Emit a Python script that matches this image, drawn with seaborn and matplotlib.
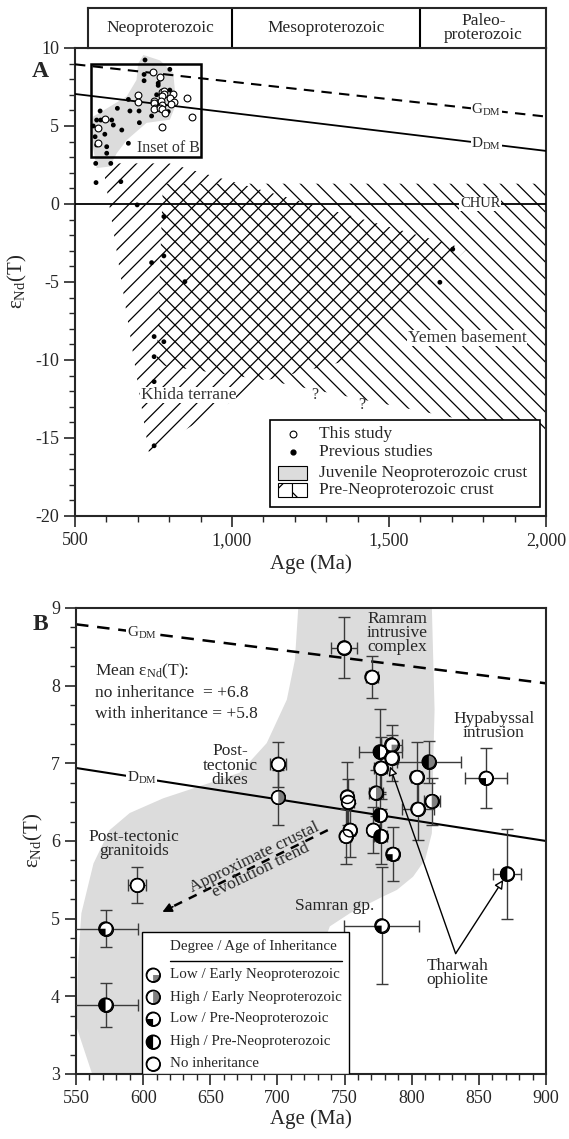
import numpy as np
import pandas as pd
import matplotlib
matplotlib.use('Agg')
import matplotlib.pyplot as plt
import seaborn as sns
from matplotlib.patches import Polygon, Rectangle
from matplotlib.path import Path
from matplotlib.markers import MarkerStyle
from matplotlib.ticker import MultipleLocator, FuncFormatter

# ---------------- data ----------------
# Panel B (this study): age (Ma), eNd(T), errors, inheritance type
b_age = [749.8, 770.2, 700.6, 700.6, 595.6, 572.0, 572.0, 855.3, 812.8, 871.2, 777.6,
         776.4, 785.0, 785.0, 776.9, 803.6, 773.4, 752.0, 752.8, 814.9, 804.4,
         776.4, 754.0, 751.0, 771.4, 776.9, 785.8]
b_eps = [8.49, 8.11, 6.99, 6.56, 5.43, 4.87, 3.89, 6.81, 7.02, 5.58, 4.91,
         7.15, 7.24, 7.07, 6.94, 6.82, 6.62, 6.57, 6.50, 6.51, 6.41,
         6.33, 6.14, 6.06, 6.14, 6.06, 5.83]
b_xerr = [9.8, 4.5, 6.0, 0.0, 6.7, 24.0, 24.0, 15.3, 24.0, 10.5, 28.0,
          16.0, 8.0, 5.0, 5.0, 4.0, 5.0, 4.0, 4.0, 6.0, 12.0,
          4.0, 4.0, 4.0, 4.0, 5.0, 4.0]
b_yerr = [0.39, 0.27, 0.29, 0.35, 0.23, 0.24, 0.28, 0.39, 0.27, 0.58, 0.75,
          0.55, 0.25, 0.30, 0.40, 0.45, 0.30, 0.45, 0.30, 0.30, 0.40,
          0.30, 0.35, 0.35, 0.30, 0.35, 0.35]
b_type = ['none', 'none', 'none', 'highE', 'none', 'lowP', 'highP', 'lowP', 'highPG', 'highP', 'lowP',
          'highP', 'lowE', 'none', 'none', 'none', 'highE', 'none', 'none', 'highE', 'none',
          'highP', 'none', 'none', 'none', 'highP', 'lowP']

# Panel A previous studies
prev_age = [723, 771, 720, 720, 765, 670, 760, 802, 580, 635, 675, 704, 744, 569, 582, 617,
            622, 558, 705, 649, 564, 595, 569, 601, 670, 601, 566, 614, 567, 646, 698,
            783, 802, 765, 797, 783, 744, 850, 1703, 1662, 752, 783, 752, 752, 752]
prev_eps = [9.23, 8.0, 8.3, 7.9, 7.6, 6.7, 7.0, 7.3, 5.96, 6.13, 5.96, 5.96, 5.64, 5.38, 5.38, 5.38,
            5.06, 5.0, 5.21, 4.74, 4.31, 4.47, 3.78, 3.67, 3.89, 3.25, 2.6, 2.6, 1.37, 1.43, -0.06,
            -0.81, 8.63, 7.74, 5.92, -3.33, -3.76, -4.98, -2.9, -5.02, -8.5, -8.83, -9.79, -11.39, -15.5]

# Reference evolution lines
gdm_a_age = [500, 2000]; gdm_a_eps = [8.95, 5.6]
ddm_a_age = [500, 2000]; ddm_a_eps = [7.05, 3.4]
gdm_b_age = [550, 900]; gdm_b_eps = [8.79, 8.03]
ddm_b_age = [550, 900]; ddm_b_eps = [6.94, 6.0]

# Juvenile crust fields
juvA_age = [718, 771, 813, 818, 818, 802, 728, 665, 633, 611, 569, 553, 558, 611, 665, 696, 701]
juvA_eps = [9.55, 9.2, 8.4, 7.3, 6.2, 5.4, 5.2, 4.1, 3.25, 2.4, 2.3, 4.1, 5.6, 6.24, 6.9, 7.95, 9.0]
juvB_age = [562, 550.5, 551.5, 554, 563, 575, 590, 615, 650, 672, 692, 707, 713, 715.5,
            815, 817, 816, 815, 810, 801, 789, 778, 754, 739, 720, 690]
juvB_eps = [3.0, 3.6, 4.43, 5.07, 5.71, 6.14, 6.36, 6.55, 6.75, 6.88, 7.26, 7.82, 8.33, 9.0,
            9.0, 7.69, 7.0, 6.1, 5.76, 5.54, 5.37, 5.28, 5.07, 4.9, 4.0, 3.0]

# Pre-Neoproterozoic crust fields
khida_age = [588, 800, 1747, 1376, 1110, 735]
khida_eps = [2.6, 2.6, -2.9, -10.0, -11.3, -15.9]
yemen_age = [780, 2000, 2000, 1110, 760]
yemen_eps = [1.3, 1.3, -14.9, -11.3, -10.3]

eras = ['Neoproterozoic', 'Mesoproterozoic', 'Paleo-\nproterozoic']
era_bounds = [541, 1000, 1600, 2000]

legB_labels = ['Low / Early Neoproterozoic', 'High / Early Neoproterozoic',
               'Low / Pre-Neoproterozoic', 'High / Pre-Neoproterozoic', 'No inheritance']
legB_types = ['lowE', 'highE', 'lowP', 'highP', 'none']

# ---------------- style ----------------
sns.set_style('ticks')
plt.rcParams['font.family'] = ['Liberation Serif', 'DejaVu Serif']
plt.rcParams['mathtext.fontset'] = 'custom'
plt.rcParams['mathtext.rm'] = 'Liberation Serif'
plt.rcParams['mathtext.it'] = 'Liberation Serif:italic'
plt.rcParams['axes.unicode_minus'] = False
plt.rcParams['hatch.linewidth'] = 0.9

GRAY_FIELD = '#dcdcdc'
GRAY_SYM = '#808080'
FS = 12.5

fills = {
    'none': [],
    'lowE': [(270, 360, GRAY_SYM)],
    'highE': [(-90, 90, GRAY_SYM)],
    'lowP': [(180, 270, 'black')],
    'highP': [(90, 270, 'black')],
    'highPG': [(90, 270, 'black'), (-90, 90, GRAY_SYM)],
}

def draw_symbols(ax, xs, ys, types, s, transform=None, z=6):
    kw = {} if transform is None else {'transform': transform}
    ax.scatter(xs, ys, s=s, facecolor='white', edgecolor='black', linewidth=1.0, zorder=z, **kw)
    for x, y, t in zip(xs, ys, types):
        for t1, t2, c in fills[t]:
            m = MarkerStyle(Path.wedge(t1, t2))
            ax.scatter([x], [y], s=s, marker=m, facecolor=c, edgecolor='none', linewidth=0, zorder=z + 0.1, **kw)
    ax.scatter(xs, ys, s=s, facecolor='none', edgecolor='black', linewidth=1.0, zorder=z + 0.2, **kw)

fig = plt.figure(figsize=(5.69, 11.39), dpi=100)
axA = fig.add_axes([0.1318, 0.5470, 0.8278, 0.4109])
axB = fig.add_axes([0.1336, 0.0571, 0.8260, 0.4091])
axT = fig.add_axes([0.1545, 0.9579, 0.8051, 0.0351])

dfB = pd.DataFrame({'age': b_age, 'eps': b_eps, 'xerr': b_xerr, 'yerr': b_yerr, 'type': b_type})
dfP = pd.DataFrame({'age': prev_age, 'eps': prev_eps})

# ---------------- Panel A ----------------
ax = axA
ax.set_xlim(500, 2000)
ax.set_ylim(-20, 10)
ax.add_patch(Polygon(np.column_stack([khida_age, khida_eps]), closed=True, fill=False,
                     hatch='//', edgecolor='black', linewidth=0, zorder=1))
ax.add_patch(Polygon(np.column_stack([yemen_age, yemen_eps]), closed=True, fill=False,
                     hatch='\\\\', edgecolor='black', linewidth=0, zorder=1))
ax.add_patch(Polygon(np.column_stack([juvA_age, juvA_eps]), closed=True, facecolor=GRAY_FIELD,
                     edgecolor='none', zorder=2))
ax.plot(gdm_a_age, gdm_a_eps, color='black', lw=1.5, ls=(0, (5, 3.5)), zorder=3)
ax.plot(ddm_a_age, ddm_a_eps, color='black', lw=1.3, zorder=3)
ax.axhline(0, color='black', lw=1.3, zorder=3)
ax.add_patch(Rectangle((550, 3), 350, 6, fill=False, edgecolor='black', lw=1.8, zorder=5))
sns.scatterplot(data=dfP, x='age', y='eps', ax=ax, s=12, color='black', edgecolor='none', zorder=4, legend=False)
sns.scatterplot(data=dfB, x='age', y='eps', ax=ax, s=24, color='white', edgecolor='black', linewidth=0.8, zorder=5, legend=False)

wb = dict(facecolor='white', edgecolor='none', pad=0.5)
ax.text(1810, 5.6 + (8.95 - 5.6) * (2000 - 1810) / 1500, r'G$_{\mathrm{DM}}$', fontsize=FS - 1.5, ha='center', va='center', bbox=wb, zorder=6)
ax.text(1810, 3.4 + (7.05 - 3.4) * (2000 - 1810) / 1500, r'D$_{\mathrm{DM}}$', fontsize=FS - 1.5, ha='center', va='center', bbox=wb, zorder=6)
ax.text(1790, 0, 'CHUR', fontsize=FS - 2, ha='center', va='center', bbox=wb, zorder=6)
ax.text(797, 3.6, 'Inset of B', fontsize=FS - 1, ha='center', va='center', color='#333333', zorder=6)
ax.text(861, -12.24, 'Khida terrane', fontsize=FS, ha='center', va='center', color='#333333',
        bbox=dict(facecolor='white', edgecolor='none', pad=0.3), zorder=6)
ax.text(1748, -8.6, 'Yemen basement', fontsize=FS, ha='center', va='center', color='#333333',
        bbox=dict(facecolor='white', edgecolor='none', pad=0.3), zorder=6)
ax.text(1264, -12.24, '?', fontsize=FS - 1, ha='center', va='center', color='#333333', zorder=6)
ax.text(1413, -12.9, '?', fontsize=FS - 1, ha='center', va='center', color='#333333', zorder=6)

# legend A
T = ax.transAxes
ax.add_patch(Rectangle((0.415, 0.02), 0.572, 0.184, transform=T, facecolor='white', edgecolor='black', lw=1.2, zorder=10))
ax.scatter([0.463], [0.175], s=24, facecolor='white', edgecolor='black', lw=0.8, transform=T, zorder=11)
ax.scatter([0.463], [0.137], s=12, color='black', transform=T, zorder=11)
ax.add_patch(Rectangle((0.431, 0.0775), 0.061, 0.03, transform=T, facecolor=GRAY_FIELD, edgecolor='black', lw=0.8, zorder=11))
ax.add_patch(Rectangle((0.431, 0.0406), 0.0305, 0.03, transform=T, facecolor='white', edgecolor='black', lw=0.8, hatch='/', zorder=11))
ax.add_patch(Rectangle((0.4615, 0.0406), 0.0305, 0.03, transform=T, facecolor='white', edgecolor='black', lw=0.8, hatch='\\', zorder=11))
for yy, lab in zip([0.175, 0.137, 0.0925, 0.0556],
                   ['This study', 'Previous studies', 'Juvenile Neoproterozoic crust', 'Pre-Neoproterozoic crust']):
    ax.text(0.518, yy, lab, transform=T, fontsize=FS, ha='left', va='center', zorder=12)

ax.xaxis.set_major_locator(MultipleLocator(500))
ax.xaxis.set_minor_locator(MultipleLocator(100))
ax.yaxis.set_major_locator(MultipleLocator(5))
ax.yaxis.set_minor_locator(MultipleLocator(1))
ax.xaxis.set_major_formatter(FuncFormatter(lambda v, p: f'{v:,.0f}'))
ax.set_xlabel('Age (Ma)', fontsize=15)
ax.set_ylabel(r'ε$_{\mathrm{Nd}}$(T)', fontsize=15)

# ---------------- era band ----------------
axT.set_xlim(era_bounds[0], era_bounds[-1])
axT.set_ylim(0, 1)
axT.set_xticks([]); axT.set_yticks([])
for b in era_bounds[1:-1]:
    axT.axvline(b, color='black', lw=1.5)
for i, name in enumerate(eras):
    axT.text((era_bounds[i] + era_bounds[i + 1]) / 2, 0.5, name, ha='center', va='center',
             fontsize=FS, linespacing=0.85)
for sp in axT.spines.values():
    sp.set_linewidth(1.5)

# ---------------- Panel B ----------------
ax = axB
ax.set_xlim(550, 900)
ax.set_ylim(3, 9)
ax.add_patch(Polygon(np.column_stack([juvB_age, juvB_eps]), closed=True, facecolor=GRAY_FIELD,
                     edgecolor='none', zorder=1))
ax.plot(gdm_b_age, gdm_b_eps, color='black', lw=1.8, ls=(0, (5, 3.5)), zorder=2)
ax.plot(ddm_b_age, ddm_b_eps, color='black', lw=1.5, zorder=2)
ax.errorbar(dfB['age'], dfB['eps'], xerr=dfB['xerr'], yerr=dfB['yerr'], fmt='none',
            ecolor='#3a3a3a', elinewidth=1.0, capsize=4.5, capthick=1.0, zorder=3)
sns.scatterplot(data=dfB, x='age', y='eps', ax=ax, s=95, color='white', edgecolor='black',
                linewidth=1.0, zorder=5, legend=False)
draw_symbols(ax, dfB['age'], dfB['eps'], dfB['type'], 95, z=6)

ax.text(598.8, 8.79 + (8.03 - 8.79) * (598.8 - 550) / 350, r'G$_{\mathrm{DM}}$', fontsize=FS - 1.5,
        ha='center', va='center', bbox=wb, zorder=4)
ax.text(598.8, 6.94 + (6.0 - 6.94) * (598.8 - 550) / 350, r'D$_{\mathrm{DM}}$', fontsize=FS - 1.5,
        ha='center', va='center', bbox=wb, zorder=4)

ax.text(564, 8.18, r'Mean ε$_{\mathrm{Nd}}$(T):', fontsize=FS, ha='left', va='center')
ax.text(564, 7.91, 'no inheritance  = +6.8', fontsize=FS, ha='left', va='center')
ax.text(564, 7.64, 'with inheritance = +5.8', fontsize=FS, ha='left', va='center')
ax.text(664.7, 6.97, 'Post-\ntectonic\ndikes', fontsize=FS, ha='center', va='center', linespacing=0.85, zorder=7)
ax.text(593.2, 5.96, 'Post-tectonic\ngranitoids', fontsize=FS, ha='center', va='center', linespacing=0.85, zorder=7)
ax.text(789, 8.68, 'Ramram\nintrusive\ncomplex', fontsize=FS, ha='center', va='center', linespacing=0.85, zorder=7)
ax.text(861.2, 7.48, 'Hypabyssal\nintrusion', fontsize=FS, ha='center', va='center', linespacing=0.85, zorder=7)
ax.text(742.9, 5.16, 'Samran gp.', fontsize=FS, ha='center', va='center', zorder=7)
ax.text(833.9, 4.30, 'Tharwah\nophiolite', fontsize=FS, ha='center', va='center', linespacing=0.9, zorder=7)
ax.text(685, 5.70, 'Approximate crustal\nevolution trend', fontsize=FS, ha='center', va='center',
        rotation=26, rotation_mode='anchor', linespacing=0.85, zorder=7)

# crustal evolution arrow
ax.plot([737.5, 619], [6.14, 5.13], color='black', lw=1.8, ls=(0, (3.5, 3)), zorder=4)
ax.annotate('', xy=(612.5, 5.07), xytext=(624, 5.17),
            arrowprops=dict(arrowstyle='-|>', color='black', lw=1.2, mutation_scale=14), zorder=4)
# Tharwah arrows
for tx, ty in [(783.8, 6.96), (868.2, 5.50)]:
    ax.annotate('', xy=(tx, ty), xytext=(832.7, 4.55),
                arrowprops=dict(arrowstyle='-|>', facecolor='white', edgecolor='black', lw=1.0,
                                mutation_scale=13, shrinkA=0, shrinkB=0), zorder=8)

# legend B
T = ax.transAxes
ax.add_patch(Rectangle((0.140, 0.0), 0.441, 0.305, transform=T, facecolor='white', edgecolor='black', lw=1.0, zorder=10))
ax.text(0.2, 0.275, 'Degree / Age of Inheritance', transform=T, fontsize=10.8, ha='left', va='center', zorder=11)
ax.plot([0.2, 0.565], [0.2425, 0.2425], transform=T, color='black', lw=1.0, zorder=11)
legy = [0.2124, 0.165, 0.118, 0.0687, 0.0215]
draw_symbols(ax, [0.164] * 5, legy, legB_types, 95, transform=T, z=11)
for yy, lab in zip(legy, legB_labels):
    ax.text(0.2, yy, lab, transform=T, fontsize=10.8, ha='left', va='center', zorder=12)

ax.xaxis.set_major_locator(MultipleLocator(50))
ax.xaxis.set_minor_locator(MultipleLocator(10))
ax.yaxis.set_major_locator(MultipleLocator(1))
ax.yaxis.set_minor_locator(MultipleLocator(0.25))
ax.set_xlabel('Age (Ma)', fontsize=15, labelpad=2)
ax.set_ylabel(r'ε$_{\mathrm{Nd}}$(T)', fontsize=15)

for a in (axA, axB):
    for sp in a.spines.values():
        sp.set_linewidth(1.5)
    a.tick_params(which='major', direction='out', length=8, width=1.2, labelsize=13, top=False, right=False)
    a.tick_params(which='minor', direction='out', length=4, width=1.0, top=False, right=False)

fig.text(0.0703, 0.9368, 'A', fontsize=17, fontweight='bold', ha='center', va='center')
fig.text(0.0703, 0.4513, 'B', fontsize=17, fontweight='bold', ha='center', va='center')

fig.savefig('out.png', dpi=100)
